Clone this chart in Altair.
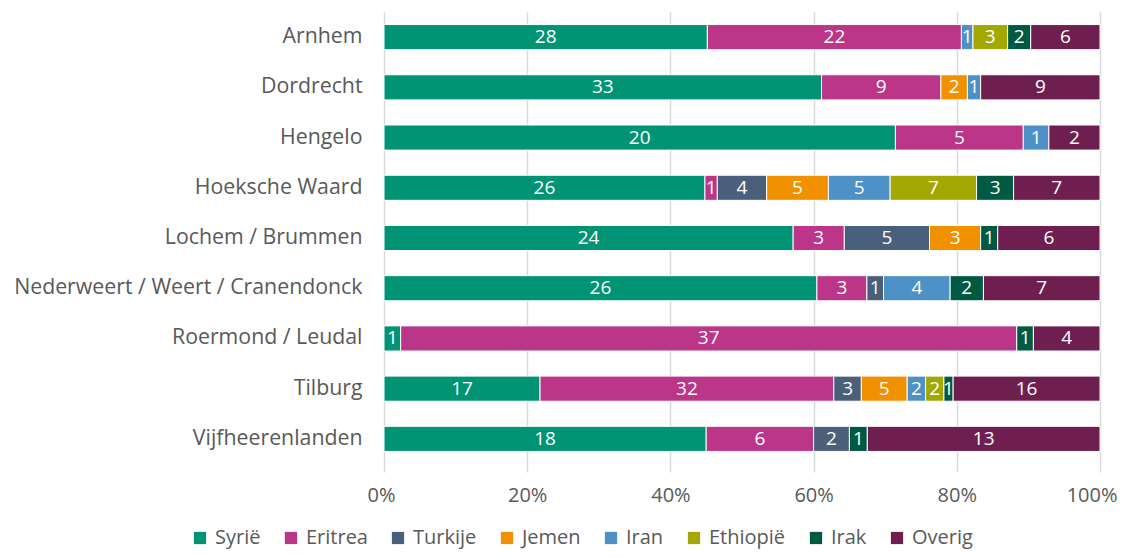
import altair as alt
import pandas as pd

cities = ["Arnhem", "Dordrecht", "Hengelo", "Hoeksche Waard", "Lochem / Brummen",
          "Nederweert / Weert / Cranendonck", "Roermond / Leudal", "Tilburg", "Vijfheerenlanden"]
series = ["Syrië", "Eritrea", "Turkije", "Jemen", "Iran", "Ethiopië", "Irak", "Overig"]
colors = ["#009474", "#BB3589", "#495F7A", "#F29100", "#4D91C6", "#A2A800", "#005A42", "#6E1F50"]

syrie    = [28, 33, 20, 26, 24, 26, 1, 17, 18]
eritrea  = [22, 9, 5, 1, 3, 3, 37, 32, 6]
turkije  = [0, 0, 0, 4, 5, 1, 0, 3, 2]
jemen    = [0, 2, 0, 5, 3, 0, 0, 5, 0]
iran     = [1, 1, 1, 5, 0, 4, 0, 2, 0]
ethiopie = [3, 0, 0, 7, 0, 0, 0, 2, 0]
irak     = [2, 0, 0, 3, 1, 2, 1, 1, 1]
overig   = [6, 9, 2, 7, 6, 7, 4, 16, 13]

values = [syrie, eritrea, turkije, jemen, iran, ethiopie, irak, overig]

rows = []
for si, (s, vals) in enumerate(zip(series, values)):
    for c, v in zip(cities, vals):
        if v > 0:
            rows.append({"city": c, "series": s, "value": v, "idx": si})
df = pd.DataFrame(rows)

FONT = "Open Sans"
GREY = "#595959"

base = alt.Chart(df).transform_stack(
    stack="value", groupby=["city"], sort=[alt.SortField("idx", order="ascending")],
    as_=["x0", "x1"], offset="normalize"
).transform_calculate(mid="(datum.x0 + datum.x1) / 2")

yenc = alt.Y("city:N", sort=cities, title=None,
             scale=alt.Scale(paddingInner=0.5, paddingOuter=0.25),
             axis=alt.Axis(ticks=False, domain=False, labelFontSize=21.3, labelColor=GREY,
                           labelFont=FONT, labelPadding=22, labelLimit=400))

bars = base.mark_bar(stroke="white", strokeWidth=1).encode(
    y=yenc,
    x=alt.X("x0:Q", title=None, scale=alt.Scale(domain=[0, 1], nice=False),
            axis=alt.Axis(format="%", values=[0, 0.2, 0.4, 0.6, 0.8, 1.0], domain=False,
                          tickSize=8, tickColor="#d9d9d9", tickWidth=1.5,
                          gridColor="#d9d9d9", gridWidth=1.5,
                          labelFontSize=20, labelColor=GREY, labelFont=FONT,
                          labelPadding=13, labelFlush=True, labelFlushOffset=17)),
    x2="x1:Q",
    color=alt.Color("series:N", title=None,
                    scale=alt.Scale(domain=series, range=colors),
                    legend=alt.Legend(orient="none", legendX=-194, legendY=516,
                                      direction="horizontal", columns=8,
                                      symbolType="square", symbolSize=150,
                                      symbolStrokeWidth=0, labelFontSize=20,
                                      labelColor=GREY, labelFont=FONT,
                                      columnPadding=20, labelOffset=5)),
)

labels = base.mark_text(color="white", fontSize=19, font=FONT).encode(
    y=alt.Y("city:N", sort=cities),
    x=alt.X("mid:Q"),
    text=alt.Text("value:Q"),
)

chart = (bars + labels).properties(
    width=716, height=452,
    autosize=alt.AutoSizeParams(type="none"),
    padding={"left": 376, "top": 4, "right": 21, "bottom": 85},
).configure_view(stroke=None)

chart.save("out.html", embed_options={"renderer": "svg", "actions": False})
